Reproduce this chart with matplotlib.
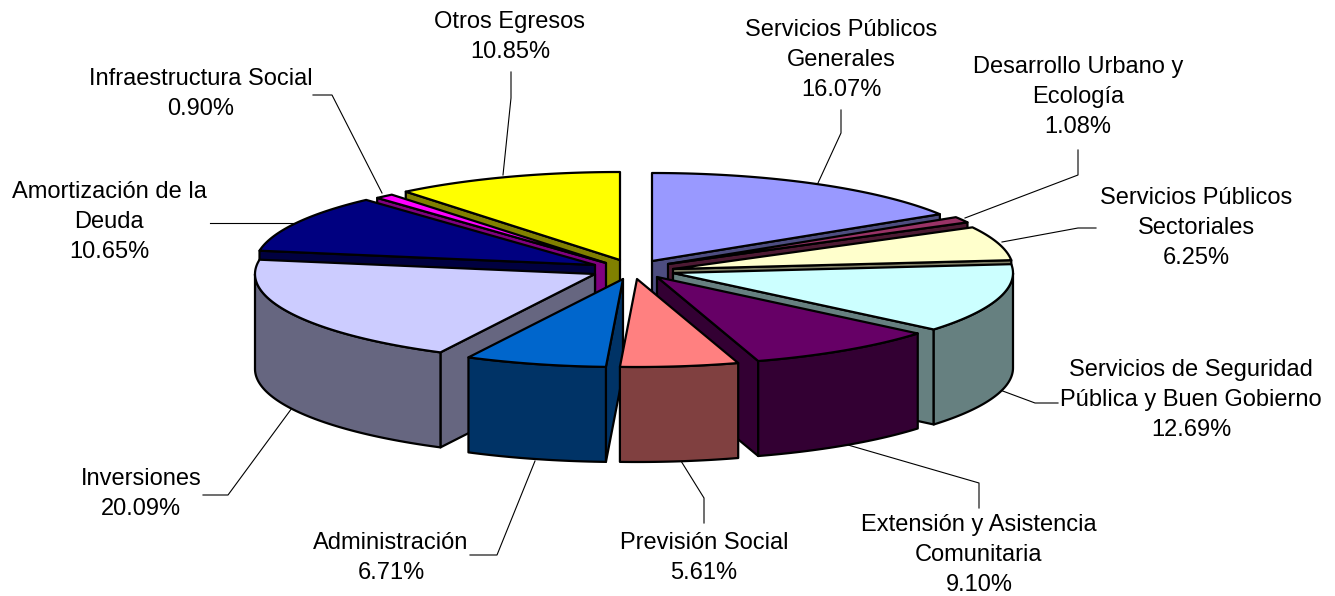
import numpy as np
import matplotlib
matplotlib.use("Agg")
import matplotlib.pyplot as plt
from matplotlib.patches import Polygon

plt.rcParams['font.family'] = ['Liberation Sans', 'DejaVu Sans']

# data, clockwise from 12 o'clock
names = ['Servicios Públicos\nGenerales', 'Desarrollo Urbano y\nEcología',
         'Servicios Públicos\nSectoriales', 'Servicios de Seguridad\nPública y Buen Gobierno',
         'Extensión y Asistencia\nComunitaria', 'Previsión Social', 'Administración',
         'Inversiones', 'Amortización de la\nDeuda', 'Infraestructura Social', 'Otros Egresos']
values = [16.07, 1.08, 6.25, 12.69, 9.10, 5.61, 6.71, 20.09, 10.65, 0.90, 10.85]
colors = ['#9999FF', '#993366', '#FFFFCC', '#CCFFFF', '#660066', '#FF8080',
          '#0066CC', '#CCCCFF', '#000080', '#FF00FF', '#FFFF00']

# layout of the fake 3d pie, in pixels
tip_x = [652, 668, 673, 673, 657, 637, 623, 595, 595, 606, 620]
tip_y = [261, 264, 269, 273, 277, 279, 279, 274, 265, 263, 260]
rx, ry = 340, 88
depth = 95

label_x = [841, 1078, 1196, 1191, 979, 704, 391, 141, 109, 201, 510]
label_y = [60, 97, 228, 400, 555, 558, 558, 494, 222, 94, 37]
leaders = [
    [(841, 110), (841, 133), (818, 183)],
    [(1078, 150), (1078, 175), (965, 218)],
    [(1096, 228), (1078, 228), (1002, 242)],
    [(1058, 403), (1035, 403), (1000, 390)],
    [(979, 508), (979, 483), (848, 445)],
    [(704, 523), (704, 498), (681, 461)],
    [(470, 555), (497, 555), (535, 461)],
    [(203, 495), (228, 495), (292, 408)],
    [(210, 223), (293, 223)],
    [(313, 95), (332, 95), (382, 193)],
    [(511, 72), (511, 98), (503, 175)],
]

fig = plt.figure(figsize=(13.35, 5.96), dpi=100)
ax = fig.add_axes([0, 0, 1, 1])
ax.set_xlim(0, 1335)
ax.set_ylim(596, 0)
ax.axis('off')

edges = np.cumsum([0] + values) / sum(values) * 2 * np.pi
mids = (edges[:-1] + edges[1:]) / 2


def rim(cx, cy, a, b):
    t = np.linspace(a, b, max(int((b - a) * 60), 2))
    return np.column_stack([cx + rx * np.sin(t), cy - ry * np.cos(t)])


def add(pts, color, z):
    ax.add_patch(Polygon(pts, closed=True, facecolor=color, edgecolor='black',
                         linewidth=1.6, joinstyle='round', zorder=z))


# back slices first
order = np.argsort(-np.cos(mids))
for z, i in enumerate(order):
    cx, cy = tip_x[i], tip_y[i]
    a, b = edges[i], edges[i + 1]
    top = np.array(matplotlib.colors.to_rgb(colors[i]))
    wall = top * 0.5
    drop = np.array([0, depth])
    tip = np.array([cx, cy])
    # cut faces turned towards the viewer
    if b <= np.pi:
        p = rim(cx, cy, b, b)[0]
        add([tip, p, p + drop, tip + drop], wall, z * 3 + 10)
    if a >= np.pi:
        p = rim(cx, cy, a, a)[0]
        add([tip, p, p + drop, tip + drop], wall, z * 3 + 10)
    # outer wall, front half only
    lo, hi = max(a, np.pi / 2), min(b, 3 * np.pi / 2)
    if hi > lo:
        r = rim(cx, cy, lo, hi)
        add(np.vstack([r, r[::-1] + drop]), wall, z * 3 + 11)
    add(np.vstack([tip, rim(cx, cy, a, b)]), top, z * 3 + 12)

for name, val, x, y in zip(names, values, label_x, label_y):
    ax.text(x, y, f'{name}\n{val:.2f}%', ha='center', va='center', fontsize=17,
            linespacing=1.45, color='black', zorder=100)

for line in leaders:
    xs, ys = zip(*line)
    ax.plot(xs, ys, color='black', linewidth=0.8, zorder=5)

fig.savefig('out.png', dpi=100)
